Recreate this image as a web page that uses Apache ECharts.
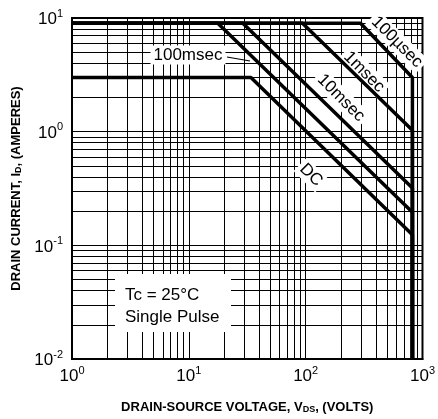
<!DOCTYPE html>
<html><head><meta charset="utf-8">
<script src="https://cdn.jsdelivr.net/npm/echarts@6/dist/echarts.min.js"></script>
<style>html,body{margin:0;padding:0;background:#fff}#c{width:438px;height:419px}</style>
</head><body><div id="c"></div>
<script>
// ---- data ----
const xDecades = [1, 10, 100, 1000];
const yDecades = [0.01, 0.1, 1, 10];
const minorMultipliers = [2, 3, 4, 5, 6, 7, 8, 9];
const curveNames = ['100µsec', '1msec', '10msec', '100msec', 'DC'];
const curve100us = [[1, 9], [295, 9], [820, 3.0], [820, 0.01]];
const curve1ms   = [[1, 9], [94, 9], [820, 1.03], [820, 0.01]];
const curve10ms  = [[1, 9], [29, 9], [820, 0.32], [820, 0.01]];
const curve100ms = [[1, 9], [17.7, 9], [820, 0.195], [820, 0.01]];
const curveDC    = [[1, 3], [34, 3], [820, 0.124], [820, 0.01]];
const noteLines = ['Tc = 25°C', 'Single Pulse'];

// ---- build ----
const FONT = "'Liberation Sans', Arial, Helvetica, sans-serif";
const xMinor = [], yMinor = [];
xDecades.slice(0, -1).forEach(d => minorMultipliers.forEach(k => xMinor.push(k * d)));
yDecades.slice(0, -1).forEach(d => minorMultipliers.forEach(k => yMinor.push(+(k * d).toPrecision(3))));

const tickRich = {
  b: { fontSize: 17, fontFamily: FONT, color: '#000', verticalAlign: 'bottom', lineHeight: 20 },
  s: { fontSize: 11, fontFamily: FONT, color: '#000', verticalAlign: 'bottom', lineHeight: 20, padding: [0, 0, 9, 0] }
};
const expFmt = v => '{b|10}{s|' + Math.round(Math.log10(v)) + '}';

const chart = echarts.init(document.getElementById('c'), null, { renderer: 'canvas' });
const curves = [curve100us, curve1ms, curve10ms, curve100ms, curveDC];

const option = {
  animation: false,
  backgroundColor: '#fff',
  grid: { left: 72, right: 15, top: 18, bottom: 56, show: true, borderColor: '#000', borderWidth: 2 },
  xAxis: {
    type: 'log', logBase: 10, min: 1, max: 1000,
    axisLine: { show: true, lineStyle: { color: '#000', width: 2 } },
    axisTick: { show: false },
    splitLine: { show: true, lineStyle: { color: '#000', width: 1 } },
    axisLabel: { formatter: expFmt, rich: tickRich, margin: 6 },
    name: 'DRAIN-SOURCE VOLTAGE, V{sub|DS}, (VOLTS)',
    nameLocation: 'middle', nameGap: 42,
    nameTextStyle: { fontSize: 13, fontWeight: 'bold', fontFamily: FONT, color: '#000',
      rich: { sub: { fontSize: 9, fontWeight: 'bold', fontFamily: FONT, color: '#000', verticalAlign: 'bottom', padding: [4, 0, 0, 0] } } }
  },
  yAxis: {
    type: 'log', logBase: 10, min: 0.01, max: 10,
    axisLine: { show: true, lineStyle: { color: '#000', width: 2 } },
    axisTick: { show: false },
    splitLine: { show: true, lineStyle: { color: '#000', width: 1 } },
    axisLabel: { formatter: expFmt, rich: tickRich, margin: 9 },
    name: 'DRAIN CURRENT, I{sub|D}, (AMPERES)',
    nameLocation: 'middle', nameGap: 46,
    nameTextStyle: { fontSize: 13, fontWeight: 'bold', fontFamily: FONT, color: '#000',
      rich: { sub: { fontSize: 9, fontWeight: 'bold', fontFamily: FONT, color: '#000', verticalAlign: 'bottom', padding: [4, 0, 0, 0] } } }
  },
  series: [
    {
      type: 'line', z: 1, silent: true, symbol: 'none', data: [[1, 0.01]],
      lineStyle: { width: 0 },
      markLine: {
        silent: true, symbol: 'none', label: { show: false }, animation: false,
        lineStyle: { color: '#000', width: 1, type: 'solid' },
        data: xMinor.map(v => ({ xAxis: v })).concat(yMinor.map(v => ({ yAxis: v })))
      }
    }
  ].concat(curves.map((c, i) => ({
    name: curveNames[i], type: 'line', z: 10, symbol: 'none', data: c,
    lineStyle: { color: '#000', width: 3.5 }
  })))
};
chart.setOption(option);

const txt = (x, y, text, rot, extra) => Object.assign({
  type: 'text', x: x, y: y, rotation: rot || 0, z: 5,
  style: { text: text, font: '17px ' + FONT, fill: '#000', align: 'center', verticalAlign: 'middle',
    backgroundColor: '#fff', padding: [1, 3] }
}, extra || {});
const R = -Math.PI / 4;
chart.setOption({
  graphic: [
    { type: 'rect', z: 5, shape: { x: 115, y: 274, width: 116, height: 58 }, style: { fill: '#fff' } },
    { type: 'text', z: 6, x: 125, y: 295, style: { text: noteLines[0], font: '17px ' + FONT, fill: '#000', align: 'left', verticalAlign: 'middle' } },
    { type: 'text', z: 6, x: 125, y: 317, style: { text: noteLines[1], font: '17px ' + FONT, fill: '#000', align: 'left', verticalAlign: 'middle' } },
    txt(188, 55, curveNames[3], 0),
    { type: 'line', z: 6, shape: { x1: 227, y1: 57, x2: 250, y2: 61 }, style: { stroke: '#000', lineWidth: 1.2 } },
    txt(397, 42, curveNames[0], R),
    txt(364, 72, curveNames[1], R),
    txt(341, 98, curveNames[2], R),
    txt(311, 175, curveNames[4], R)
  ]
});
</script></body></html>
